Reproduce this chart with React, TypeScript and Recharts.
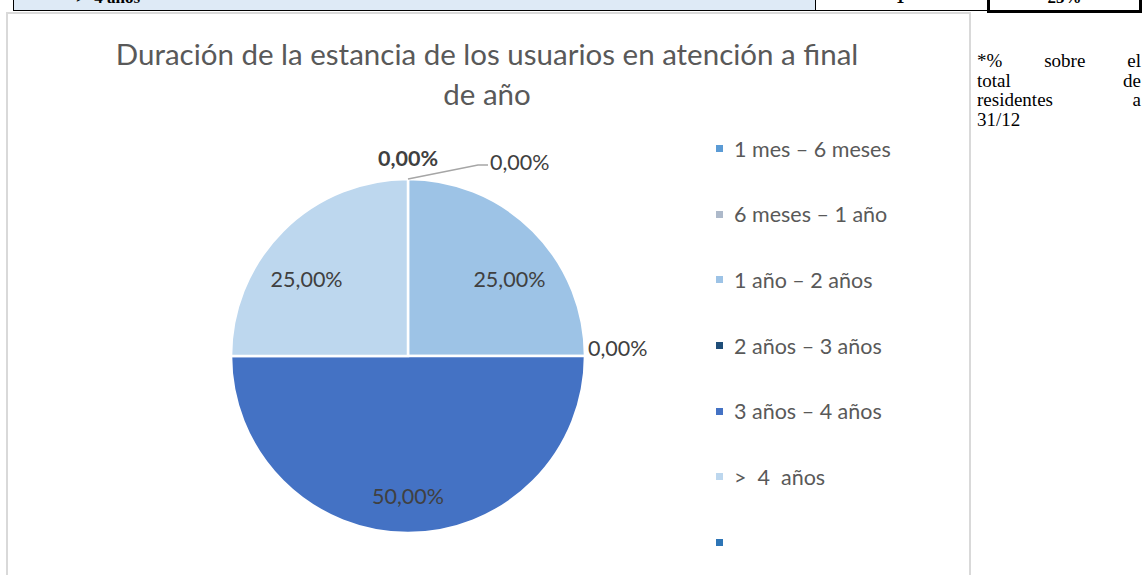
import React from "react";
import { PieChart, Pie, Cell, Legend } from "recharts";

const categories = ["1 mes – 6 meses", "6 meses – 1 año", "1 año – 2 años", "2 años – 3 años", "3 años – 4 años", ">  4  años"];
const values = [0, 0, 25, 0, 50, 25];
const colors = ["#5B9BD5", "#ADB9CA", "#9DC3E6", "#1F4E79", "#4472C4", "#BDD7EE"];
const legendExtraColor = "#2E75B6";
const titleLines = ["Duración de la estancia de los usuarios en atención a final", "de año"];
const noteLines = ["*% sobre el", "total de", "residentes a", "31/12"];

const data = categories.map((name, i) => ({ name, value: values[i] }));

const FONT = "Lato, 'Noto Sans', sans-serif";
const RAD = Math.PI / 180;

const fmt = (v: number) => v.toFixed(2).replace(".", ",") + "%";

const renderLabel = (props: any) => {
  const { cx, cy, outerRadius, midAngle, index, value } = props;
  const r = outerRadius;
  const cos = Math.cos(-midAngle * RAD);
  const sin = Math.sin(-midAngle * RAD);
  const common = { fontFamily: FONT, fontSize: 21.5, fill: "#404040" };
  if (value > 0) {
    const vert = Math.abs(sin) > 0.99 ? 1 : 0.78;
    const x = cx + 0.81 * r * cos;
    const y = cy + 0.79 * r * sin * vert;
    return (
      <text key={`l${index}`} x={x} y={y} textAnchor="middle" dominantBaseline="central" {...common}>
        {fmt(value)}
      </text>
    );
  }
  if (index === 0) {
    return (
      <text key={`l${index}`} x={cx} y={cy - r - 21} textAnchor="middle" dominantBaseline="central" {...common} fontWeight={700}>
        {fmt(value)}
      </text>
    );
  }
  if (index === 1) {
    const x0 = cx;
    const y0 = cy - r;
    const x1 = cx + 70;
    const y1 = cy - r - 14;
    const x2 = cx + 80;
    return (
      <g key={`l${index}`}>
        <polyline points={`${x0},${y0} ${x1},${y1} ${x2},${y1}`} fill="none" stroke="#A6A6A6" strokeWidth={1.5} />
        <text x={x2 + 2} y={y1 - 3} textAnchor="start" dominantBaseline="central" {...common}>
          {fmt(value)}
        </text>
      </g>
    );
  }
  const x = cx + (r + 3) * cos;
  const y = cy + (r + 3) * sin - 8;
  return (
    <text key={`l${index}`} x={x} y={y} textAnchor="start" dominantBaseline="central" {...common}>
      {fmt(value)}
    </text>
  );
};

const LegendContent = () => {
  const items = [...categories.map((c, i) => ({ c, col: colors[i] })), { c: "", col: legendExtraColor }];
  return (
    <div style={{ fontFamily: FONT }}>
      {items.map((it, i) => (
        <div key={i} style={{ height: 65.6, display: "flex", alignItems: "center" }}>
          <span style={{ display: "inline-block", width: 7, height: 7, background: it.col, marginRight: 11, flex: "none" }} />
          <span style={{ fontSize: 21.5, color: "#595959", whiteSpace: "pre", lineHeight: "24px" }}>{it.c}</span>
        </div>
      ))}
    </div>
  );
};

export default function App() {
  return (
    <div style={{ position: "absolute", left: 0, top: 0, width: 1145, height: 575, overflow: "hidden", background: "#fff" }}>
      {/* table row fragment */}
      <div style={{ position: "absolute", left: 13, top: -30, width: 803, height: 41, background: "#DEEAF6", border: "1px solid #000", boxSizing: "border-box", overflow: "hidden" }}>
        <div style={{ position: "absolute", left: 62, top: 17, fontFamily: "'Liberation Serif', serif", fontWeight: 700, fontSize: 17, whiteSpace: "pre" }}>{">  4 años"}</div>
      </div>
      <div style={{ position: "absolute", left: 815, top: -30, width: 174, height: 41, border: "1px solid #000", boxSizing: "border-box", overflow: "hidden" }}>
        <div style={{ position: "absolute", left: 80, top: 17, fontFamily: "'Liberation Serif', serif", fontWeight: 700, fontSize: 17 }}>1</div>
      </div>
      <div style={{ position: "absolute", left: 987, top: -30, width: 155, height: 43, border: "3px solid #000", boxSizing: "border-box", overflow: "hidden" }}>
        <div style={{ position: "absolute", left: 0, width: 149, textAlign: "center", top: 15, fontFamily: "'Liberation Serif', serif", fontWeight: 700, fontSize: 17 }}>25%</div>
      </div>
      {/* chart frame */}
      <div style={{ position: "absolute", left: 6, top: 12, width: 965, height: 600, border: "2px solid #D9D9D9", boxSizing: "border-box" }} />
      {/* title */}
      <div style={{ position: "absolute", left: 7, width: 960, top: 34, textAlign: "center", fontFamily: FONT, fontSize: 29.5, lineHeight: "40px", color: "#595959", whiteSpace: "nowrap" }}>
        {titleLines.map((t, i) => (
          <div key={i}>{t}</div>
        ))}
      </div>
      {/* note */}
      <div style={{ position: "absolute", left: 977, top: 51, width: 164, fontFamily: "'Liberation Serif', serif", fontSize: 19, lineHeight: "20px", color: "#000" }}>
        {noteLines.map((t, i) => (
          <div key={i} style={{ height: 19.5, textAlign: i < noteLines.length - 1 ? "justify" : "left", textAlignLast: i < noteLines.length - 1 ? "justify" : "left" } as any}>
            {t}
          </div>
        ))}
      </div>
      <div style={{ position: "absolute", left: 0, top: 0 }}>
        <PieChart width={1145} height={575} margin={{ top: 0, right: 0, bottom: 0, left: 0 }}>
          <Pie
            data={data}
            dataKey="value"
            nameKey="name"
            cx={408}
            cy={356}
            outerRadius={177}
            startAngle={90}
            endAngle={-270}
            stroke="#fff"
            strokeWidth={2.5}
            label={renderLabel}
            labelLine={false}
            isAnimationActive={false}
          >
            {data.map((d, i) => (
              <Cell key={i} fill={colors[i]} />
            ))}
          </Pie>
          <Legend
            content={<LegendContent />}
            layout="vertical"
            wrapperStyle={{ position: "absolute", left: 716, top: 116, width: 240 }}
          />
        </PieChart>
      </div>
    </div>
  );
}
